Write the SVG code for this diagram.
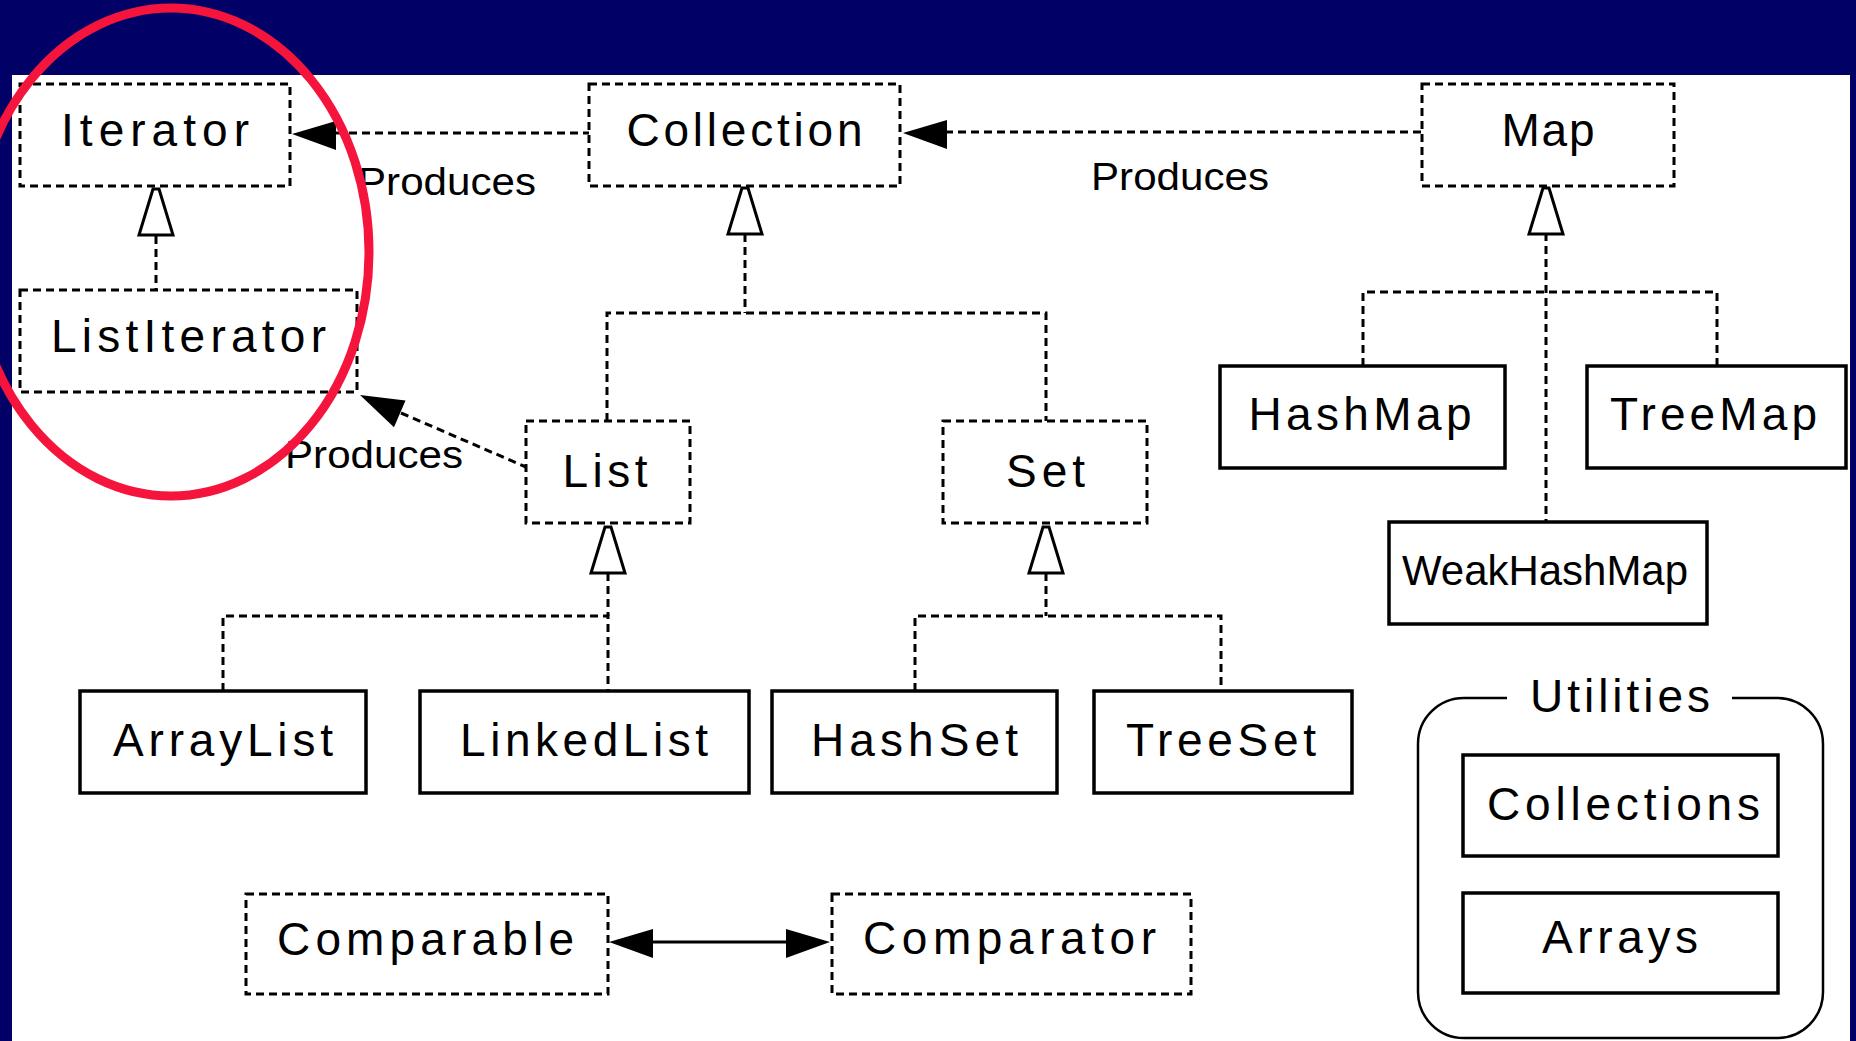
<svg xmlns="http://www.w3.org/2000/svg" width="1856" height="1041" viewBox="0 0 1856 1041">
<style>
.dbox{fill:#fff;stroke:#000;stroke-width:3;stroke-dasharray:8 5}
.sbox{fill:#fff;stroke:#000;stroke-width:3.5}
.lbl{font-family:"Liberation Sans",Arial,sans-serif;font-size:46px;fill:#000;text-anchor:middle}
.prd{font-family:"Liberation Sans",Arial,sans-serif;font-size:38px;fill:#000}
.dash{fill:none;stroke:#000;stroke-width:3;stroke-dasharray:8 5}
.solid{fill:none;stroke:#000;stroke-width:3}
</style>
<defs>
<path id="gen" d="M-3,0 H3 L17,46 H-17 Z" fill="#fff" stroke="#000" stroke-width="3" stroke-linejoin="miter"/>
<path id="prod" d="M0,0 L44,-13 L44,16 Z" fill="#000"/>
</defs>
<rect x="0" y="0" width="1856" height="1041" fill="#000066"/>
<rect x="12" y="75" width="1838" height="966" fill="#fff"/>

<g id="connectors">
  <line class="dash" x1="336" y1="133" x2="589" y2="133"/>
  <line class="dash" x1="945" y1="132" x2="1422" y2="132"/>
  <line class="dash" x1="401" y1="413" x2="526" y2="467"/>
  <line class="dash" x1="156" y1="236" x2="156" y2="290"/>
  <polyline class="dash" points="745,234 745,313"/>
  <polyline class="dash" points="607,421 607,313 1046,313 1046,421"/>
  <polyline class="dash" points="608,573 608,616"/>
  <polyline class="dash" points="223,691 223,616 608,616 608,691"/>
  <polyline class="dash" points="1046,573 1046,616"/>
  <polyline class="dash" points="915,691 915,616 1221,616 1221,691"/>
  <polyline class="dash" points="1546,233 1546,522"/>
  <polyline class="dash" points="1363,366 1363,292 1717,292 1717,366"/>
  <line class="solid" x1="650" y1="942" x2="790" y2="942"/>
  <use href="#gen" x="156" y="189"/>
  <use href="#gen" x="745" y="188"/>
  <use href="#gen" x="1546" y="188"/>
  <use href="#gen" x="608" y="527"/>
  <use href="#gen" x="1046" y="527"/>
  <use href="#prod" transform="translate(292,134)"/>
  <use href="#prod" transform="translate(903,133)"/>
  <use href="#prod" transform="translate(360,395) rotate(23.5)"/>
  <use href="#prod" transform="translate(609,942)"/>
  <use href="#prod" transform="translate(830,942) scale(-1,1)"/>
  <text class="prd" x="358" y="195" textLength="178" lengthAdjust="spacingAndGlyphs">Produces</text>
  <text class="prd" x="1091" y="190" textLength="178" lengthAdjust="spacingAndGlyphs">Produces</text>
  <text class="prd" x="285" y="468" textLength="178" lengthAdjust="spacingAndGlyphs">Produces</text>
</g>

<g id="Iterator"><rect class="dbox" x="20" y="84" width="270" height="102"/><text class="lbl" x="155" y="146" textLength="188">Iterator</text></g>
<g id="ListIterator"><rect class="dbox" x="20" y="290" width="337" height="102"/><text class="lbl" x="188.5" y="352" textLength="275">ListIterator</text></g>
<g id="Collection"><rect class="dbox" x="589" y="84" width="311" height="102"/><text class="lbl" x="744.5" y="146" textLength="236">Collection</text></g>
<g id="Map"><rect class="dbox" x="1422" y="84" width="252" height="102"/><text class="lbl" x="1548" y="146" textLength="93">Map</text></g>
<g id="List"><rect class="dbox" x="526" y="421" width="164" height="102"/><text class="lbl" x="605" y="487" textLength="85">List</text></g>
<g id="Set"><rect class="dbox" x="943" y="421" width="204" height="102"/><text class="lbl" x="1045.5" y="487" textLength="79">Set</text></g>
<g id="HashMap"><rect class="sbox" x="1220" y="366" width="285" height="102"/><text class="lbl" x="1360" y="430" textLength="223">HashMap</text></g>
<g id="TreeMap"><rect class="sbox" x="1587" y="366" width="259" height="102"/><text class="lbl" x="1713.5" y="430" textLength="207">TreeMap</text></g>
<g id="WeakHashMap"><rect class="sbox" x="1389" y="522" width="318" height="102"/><text class="lbl" x="1545" y="585" textLength="286" style="font-size:42px" lengthAdjust="spacingAndGlyphs">WeakHashMap</text></g>
<g id="ArrayList"><rect class="sbox" x="80" y="691" width="286" height="102"/><text class="lbl" x="223" y="756" textLength="220">ArrayList</text></g>
<g id="LinkedList"><rect class="sbox" x="420" y="691" width="329" height="102"/><text class="lbl" x="584" y="756" textLength="248">LinkedList</text></g>
<g id="HashSet"><rect class="sbox" x="772" y="691" width="285" height="102"/><text class="lbl" x="914.5" y="756" textLength="207">HashSet</text></g>
<g id="TreeSet"><rect class="sbox" x="1094" y="691" width="258" height="102"/><text class="lbl" x="1221" y="756" textLength="190">TreeSet</text></g>
<g id="Comparable"><rect class="dbox" x="246" y="894" width="362" height="100"/><text class="lbl" x="425.5" y="955" textLength="297">Comparable</text></g>
<g id="Comparator"><rect class="dbox" x="832" y="894" width="359" height="100"/><text class="lbl" x="1009.5" y="954" textLength="293">Comparator</text></g>
<g id="Utilities">
  <path d="M1507,698 H1464 A46,46 0 0 0 1418,744 V992 A46,46 0 0 0 1464,1038 H1777 A46,46 0 0 0 1823,992 V744 A46,46 0 0 0 1777,698 H1732" fill="none" stroke="#000" stroke-width="2.5"/>
  <text class="lbl" x="1620" y="712" textLength="180">Utilities</text>
</g>
<g id="Collections"><rect class="sbox" x="1463" y="755" width="315" height="101"/><text class="lbl" x="1623.5" y="820" textLength="273">Collections</text></g>
<g id="Arrays"><rect class="sbox" x="1463" y="893" width="315" height="100"/><text class="lbl" x="1620" y="953" textLength="156">Arrays</text></g>

<ellipse cx="171" cy="252" rx="198" ry="244" fill="none" stroke="#F5143C" stroke-width="9"/>
</svg>
